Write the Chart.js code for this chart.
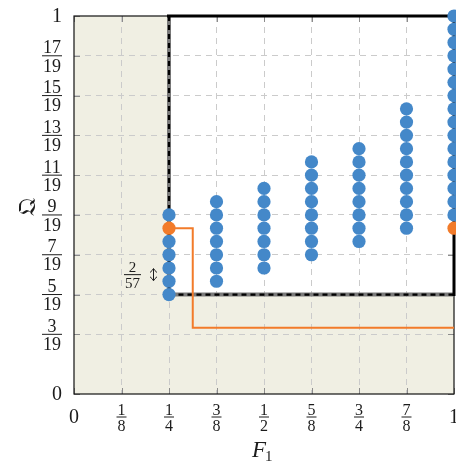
<!DOCTYPE html>
<html>
<head>
<meta charset="utf-8">
<script src="https://cdn.jsdelivr.net/npm/chart.js@4.4.1/dist/chart.umd.min.js"></script>
<style>
  html, body { margin: 0; padding: 0; background: #ffffff; }
  canvas { display: block; }
</style>
</head>
<body>
<canvas id="c" width="456" height="462"></canvas>
<script>
// Tick labels on both axes (fractions are written as "num/den")
const xTickLabels = ['0', '1/8', '1/4', '3/8', '1/2', '5/8', '3/4', '7/8', '1'];
const yTickLabels = ['0', '3/19', '5/19', '7/19', '9/19', '11/19', '13/19', '15/19', '17/19', '1'];

// Attainable points: F1 column and the Q levels in that column, in units of 1/57
const columnsF1 = [1/4, 3/8, 1/2, 5/8, 3/4, 7/8, 1];
const levels57 = [
  [15, 17, 19, 21, 23, 27],
  [17, 19, 21, 23, 25, 27, 29],
  [19, 21, 23, 25, 27, 29, 31],
  [21, 23, 25, 27, 29, 31, 33, 35],
  [23, 25, 27, 29, 31, 33, 35, 37],
  [25, 27, 29, 31, 33, 35, 37, 39, 41, 43],
  [27, 29, 31, 33, 35, 37, 39, 41, 43, 45, 47, 49, 51, 53, 55, 57]
];

// Highlighted points (orange)
const highlightF1 = [1/4, 1];
const highlightQ57 = [25, 25];

// Orange threshold path
const pathF1 = [1/4, 5/16, 5/16, 1];
const pathQ57 = [25, 25, 10, 10];

// Feasible region (white box)
const regionF1 = [1/4, 1];
const regionQ = [5/19, 1];

// Annotated level step
const stepLabel = '2/57';
const stepCenter57 = 18;

const BLUE = '#4488c9';
const ORANGE = '#f27b2a';
const BEIGE = '#f0efe3';
const GRID = '#cbcbcb';
const TEXT = '#1c1c1c';
const SERIF = '"Liberation Serif", "DejaVu Serif", serif';

const frac = s => { const p = s.split('/'); return p.length === 2 ? (+p[0]) / (+p[1]) : +p[0]; };
const xTickVals = xTickLabels.map(frac);
const yTickVals = yTickLabels.map(frac);

const bluePts = [];
columnsF1.forEach((f, i) => levels57[i].forEach(n => bluePts.push({ x: f, y: n / 57 })));
const orangePts = highlightF1.map((f, i) => ({ x: f, y: highlightQ57[i] / 57 }));
const pathPts = pathF1.map((f, i) => ({ x: f, y: pathQ57[i] / 57 }));

function drawLabel(ctx, label, cx, barY, size, bigSize, align) {
  const parts = label.split('/');
  ctx.fillStyle = TEXT;
  if (parts.length === 1) {
    ctx.font = bigSize + 'px ' + SERIF;
    ctx.textBaseline = 'middle';
    ctx.textAlign = align;
    ctx.fillText(label, cx, barY + 1);
    return;
  }
  ctx.font = size + 'px ' + SERIF;
  const w = Math.max(ctx.measureText(parts[0]).width, ctx.measureText(parts[1]).width) + 2;
  const mid = align === 'right' ? cx - w / 2 : cx;
  ctx.textAlign = 'center';
  ctx.textBaseline = 'alphabetic';
  ctx.fillText(parts[0], mid, barY - 2.5);
  ctx.textBaseline = 'top';
  ctx.fillText(parts[1], mid, barY + 2);
  ctx.fillRect(mid - w / 2, barY - 0.5, w, 1);
}

const deco = {
  id: 'deco',
  beforeDraw(chart) {
    const { ctx, chartArea: a, scales: { x, y } } = chart;
    ctx.save();
    ctx.fillStyle = BEIGE;
    ctx.fillRect(a.left, a.top, a.right - a.left, a.bottom - a.top);
    const x0 = x.getPixelForValue(regionF1[0]), x1 = x.getPixelForValue(regionF1[1]);
    const y0 = y.getPixelForValue(regionQ[0]), y1 = y.getPixelForValue(regionQ[1]);
    ctx.fillStyle = '#ffffff';
    ctx.fillRect(x0, y1, x1 - x0, y0 - y1);
    ctx.restore();
  },
  beforeDatasetsDraw(chart) {
    const { ctx, chartArea: a, scales: { x, y } } = chart;
    ctx.save();
    // inward tick marks
    ctx.strokeStyle = '#8c8c8c';
    ctx.lineWidth = 1;
    const T = 6;
    xTickVals.forEach(v => {
      const px = Math.round(x.getPixelForValue(v)) + 0.5;
      ctx.beginPath();
      ctx.moveTo(px, a.bottom); ctx.lineTo(px, a.bottom - T);
      ctx.moveTo(px, a.top); ctx.lineTo(px, a.top + T);
      ctx.stroke();
    });
    yTickVals.forEach(v => {
      const py = Math.round(y.getPixelForValue(v)) + 0.5;
      ctx.beginPath();
      ctx.moveTo(a.left, py); ctx.lineTo(a.left + T, py);
      ctx.moveTo(a.right, py); ctx.lineTo(a.right - T, py);
      ctx.stroke();
    });
    // plot frame
    ctx.strokeStyle = '#111';
    ctx.lineWidth = 1.2;
    ctx.strokeRect(a.left, a.top, a.right - a.left, a.bottom - a.top);

    // feasible region border
    const x0 = x.getPixelForValue(regionF1[0]), x1 = x.getPixelForValue(regionF1[1]);
    const y0 = y.getPixelForValue(regionQ[0]), y1 = y.getPixelForValue(regionQ[1]);
    ctx.lineCap = 'butt';
    ctx.strokeStyle = '#7a7a7a';
    ctx.lineWidth = 4;
    ctx.beginPath();
    ctx.moveTo(x0, y1); ctx.lineTo(x0, y0); ctx.lineTo(x1, y0);
    ctx.stroke();
    ctx.strokeStyle = '#000';
    ctx.lineWidth = 2.2;
    ctx.setLineDash([5, 4]);
    ctx.beginPath();
    ctx.moveTo(x0, y1); ctx.lineTo(x0, y0); ctx.lineTo(x1, y0);
    ctx.stroke();
    ctx.setLineDash([]);
    ctx.lineWidth = 3;
    ctx.beginPath();
    ctx.moveTo(x0 - 2, y1); ctx.lineTo(x1, y1); ctx.lineTo(x1, y0 + 1.5);
    ctx.stroke();
    ctx.restore();
  },
  afterDraw(chart) {
    const { ctx, chartArea: a, scales: { x, y } } = chart;
    ctx.save();
    // x tick labels
    xTickLabels.forEach((lab, i) => {
      const px = x.getPixelForValue(xTickVals[i]);
      drawLabel(ctx, lab, px, a.bottom + 23, 16, 20, 'center');
    });
    // y tick labels
    yTickLabels.forEach((lab, i) => {
      const py = y.getPixelForValue(yTickVals[i]);
      drawLabel(ctx, lab, a.left - 12, py, 18, 20, 'right');
    });
    // axis titles
    ctx.fillStyle = TEXT;
    ctx.textBaseline = 'alphabetic';
    ctx.textAlign = 'left';
    ctx.font = 'italic 23px ' + SERIF;
    const cx = (a.left + a.right) / 2 - 1;
    const fw = ctx.measureText('F').width;
    ctx.fillText('F', cx - fw / 2 - 4, a.bottom + 63);
    ctx.font = '15px ' + SERIF;
    ctx.fillText('1', cx - fw / 2 - 4 + fw - 1, a.bottom + 67);

    ctx.save();
    ctx.translate(29, (a.top + a.bottom) / 2 + 2);
    ctx.rotate(-Math.PI / 2);
    ctx.textAlign = 'center';
    ctx.textBaseline = 'middle';
    ctx.font = '24px "DejaVu Serif", "DejaVu Sans", serif';
    ctx.fillText('\u{1D514}', 0, 0);
    ctx.restore();

    // level step annotation
    const yc = y.getPixelForValue(stepCenter57 / 57);
    const h = (y.getPixelForValue(0) - y.getPixelForValue(2 / 57)) / 2;
    const ax = x.getPixelForValue(regionF1[0]) - 15.5;
    drawLabel(ctx, stepLabel, ax - 21, yc, 15, 15, 'center');
    ctx.strokeStyle = TEXT;
    ctx.lineWidth = 1;
    ctx.beginPath();
    ctx.moveTo(ax, yc - h + 1); ctx.lineTo(ax, yc + h - 1);
    ctx.moveTo(ax - 3.5, yc - h + 4.5); ctx.quadraticCurveTo(ax - 1, yc - h + 2.5, ax, yc - h + 0.5);
    ctx.quadraticCurveTo(ax + 1, yc - h + 2.5, ax + 3.5, yc - h + 4.5);
    ctx.moveTo(ax - 3.5, yc + h - 4.5); ctx.quadraticCurveTo(ax - 1, yc + h - 2.5, ax, yc + h - 0.5);
    ctx.quadraticCurveTo(ax + 1, yc + h - 2.5, ax + 3.5, yc + h - 4.5);
    ctx.stroke();
    ctx.restore();
  }
};

const gridColor = c => (c.tick && (c.tick.value === 0 || c.tick.value === 1)) ? 'rgba(0,0,0,0)' : GRID;

new Chart(document.getElementById('c'), {
  type: 'scatter',
  data: {
    datasets: [
      { label: 'threshold', data: pathPts, showLine: true, borderColor: ORANGE, borderWidth: 2,
        pointRadius: 0, tension: 0, fill: false, order: 3, clip: false },
      { label: 'levels', data: bluePts, backgroundColor: BLUE, borderWidth: 0,
        pointRadius: 6.6, order: 2, clip: false },
      { label: 'highlight', data: orangePts, backgroundColor: ORANGE, borderWidth: 0,
        pointRadius: 6.6, order: 1, clip: false }
    ]
  },
  options: {
    responsive: false,
    animation: false,
    devicePixelRatio: 1,
    events: [],
    layout: { autoPadding: false, padding: { left: 74, right: 2, top: 16, bottom: 68 } },
    plugins: { legend: { display: false }, tooltip: { enabled: false } },
    scales: {
      x: {
        type: 'linear', min: 0, max: 1,
        afterBuildTicks: s => { s.ticks = xTickVals.map(v => ({ value: v })); },
        ticks: { display: false },
        grid: { color: gridColor, lineWidth: 1, drawTicks: false },
        border: { display: false, dash: [6, 5] }
      },
      y: {
        type: 'linear', min: 0, max: 1,
        afterBuildTicks: s => { s.ticks = yTickVals.map(v => ({ value: v })); },
        ticks: { display: false },
        grid: { color: gridColor, lineWidth: 1, drawTicks: false },
        border: { display: false, dash: [6, 5] }
      }
    }
  },
  plugins: [deco]
});
</script>
</body>
</html>
